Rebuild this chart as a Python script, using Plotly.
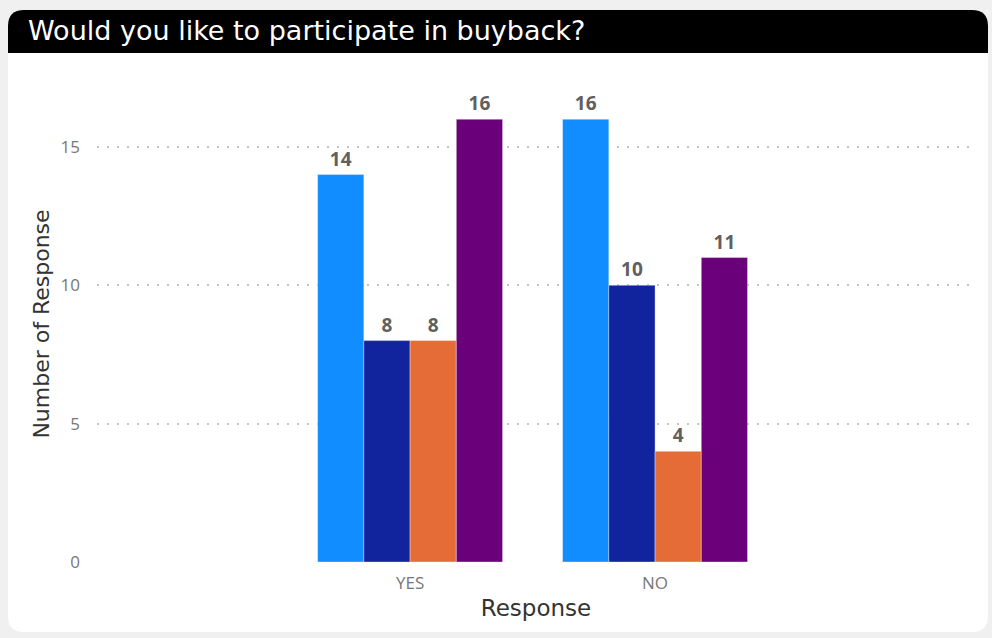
import plotly.graph_objects as go

categories = ["YES", "NO"]
series_names = ["Series 1", "Series 2", "Series 3", "Series 4"]
series_values = [
    [14, 16],
    [8, 10],
    [8, 4],
    [16, 11],
]
series_colors = ["#118DFF", "#12239E", "#E66C37", "#6B007B"]
y_ticks = [0, 5, 10, 15]

W, H = 992, 638
L, R, T, B = 97, 17, 86, 76
PW, PH = W - L - R, H - T - B


def px(x):
    return (x - L) / PW


def py(y):
    return (H - B - y) / PH


def rounded_path(x0, y0, x1, y1, rtl, rtr, rbr, rbl):
    p = []
    p.append(f"M {px(x0 + rtl)} {py(y0)}")
    p.append(f"L {px(x1 - rtr)} {py(y0)}")
    p.append(f"Q {px(x1)} {py(y0)} {px(x1)} {py(y0 + rtr)}")
    p.append(f"L {px(x1)} {py(y1 - rbr)}")
    p.append(f"Q {px(x1)} {py(y1)} {px(x1 - rbr)} {py(y1)}")
    p.append(f"L {px(x0 + rbl)} {py(y1)}")
    p.append(f"Q {px(x0)} {py(y1)} {px(x0)} {py(y1 - rbl)}")
    p.append(f"L {px(x0)} {py(y0 + rtl)}")
    p.append(f"Q {px(x0)} {py(y0)} {px(x0 + rtl)} {py(y0)}")
    p.append("Z")
    return " ".join(p)


fig = go.Figure()
for name, vals, col in zip(series_names, series_values, series_colors):
    fig.add_trace(go.Bar(
        x=categories, y=vals, name=name,
        marker=dict(color=col, line=dict(color="rgba(255,255,255,0.6)", width=0.6)),
        text=[str(v) for v in vals], textposition="outside",
        textfont=dict(family="Open Sans", size=19, color="#5f5f5f", weight="bold"),
        cliponaxis=False,
    ))

shapes = [
    dict(type="path", xref="paper", yref="paper", layer="below",
         path=rounded_path(8, 10, 988, 632, 16, 16, 16, 16),
         fillcolor="#ffffff", line=dict(width=0)),
    dict(type="path", xref="paper", yref="paper", layer="below",
         path=rounded_path(8, 10, 988, 53, 16, 16, 0, 0),
         fillcolor="#000000", line=dict(width=0)),
]

fig.update_layout(
    width=W, height=H,
    margin=dict(l=L, r=R, t=T, b=B),
    paper_bgcolor="#f0f0f0",
    plot_bgcolor="rgba(0,0,0,0)",
    showlegend=False,
    barmode="group",
    bargap=0.245,
    bargroupgap=0,
    shapes=shapes,
    annotations=[
        dict(text="Would you like to participate in buyback?", xref="paper", yref="paper",
             x=px(26), y=py(31), xanchor="left", yanchor="middle", showarrow=False,
             font=dict(family="DejaVu Sans", size=27, color="#ffffff")),
    ],
    xaxis=dict(
        range=[-1.278, 2.306], showgrid=False, zeroline=False, showline=False,
        tickfont=dict(family="Open Sans", size=17, color="#777777"),
        ticklabelstandoff=9,
        title=dict(text="Response", font=dict(family="DejaVu Sans", size=23, color="#333333"), standoff=6),
        ticks="", fixedrange=True,
    ),
    yaxis=dict(
        range=[0, 17.2], tickvals=y_ticks, showgrid=True, gridcolor="#c4c4c4",
        griddash="2px,8px", gridwidth=1.5, zeroline=False, showline=False,
        tickfont=dict(family="Open Sans", size=17, color="#777777"),
        ticklabelstandoff=16,
        title=dict(text="Number of Response", font=dict(family="DejaVu Sans", size=22, color="#333333"), standoff=4),
        ticks="",
    ),
)

fig.write_html(
    "out.html",
    config={"displayModeBar": False},
    post_script="document.body.style.margin='0';document.body.style.padding='0';document.body.style.overflow='hidden';",
)
